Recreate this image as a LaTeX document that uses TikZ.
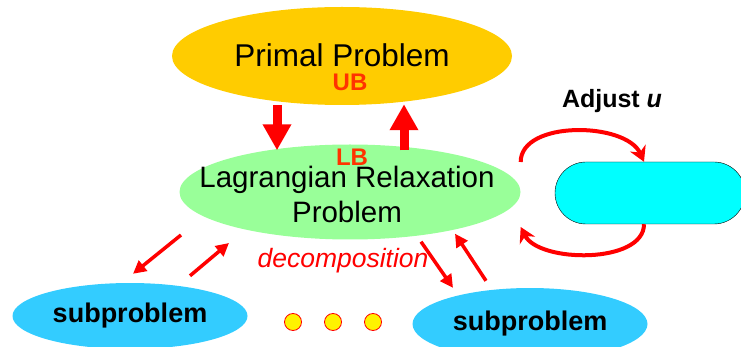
\documentclass[tikz,border=0pt]{standalone}
\usepackage{fontspec}
\setmainfont{Liberation Sans}
\usetikzlibrary{arrows.meta,shapes.geometric}
\definecolor{primalc}{HTML}{FFCC00}
\definecolor{lrc}{HTML}{99FF99}
\definecolor{subc}{HTML}{33CCFF}
\definecolor{adjc}{HTML}{00FFFF}
\definecolor{boundc}{HTML}{FF3300}
\begin{document}
\begin{tikzpicture}[x=1pt, y=-1pt,
  bigarrow/.style={red, line width=9pt, -{Triangle[width=27pt,length=26pt]}},
  thinarrow/.style={red, line width=3.5pt, -{Triangle[width=13pt,length=13pt]}},
  arcarrow/.style={red, line width=4pt, -{Stealth[width=17pt,length=15pt]}},
  blob/.style={ellipse, inner sep=0pt},
  dot/.style={circle, fill=yellow, draw=red, line width=.8pt, minimum size=17pt, inner sep=0pt}]
\useasboundingbox (0,0) rectangle (741,347);

\node[blob, fill=primalc, minimum width=340pt, minimum height=98pt] (primal) at (342,56) {};
\node[font=\fontsize{31.5}{34}\selectfont] (primaltext) at (342,55) {Primal Problem};
\node[blob, fill=lrc, minimum width=341pt, minimum height=95pt] (lr) at (350,192) {};
\node[font=\fontsize{29.5}{35}\selectfont, align=center] (lrtext) at (347,194) {Lagrangian Relaxation\\Problem};
\node[text=boundc, font=\fontsize{24}{28}\selectfont\bfseries] (ub) at (350,82) {UB};
\node[text=boundc, font=\fontsize{24}{28}\selectfont\bfseries] (lb) at (352,157) {LB};

\node[draw=black, fill=adjc, minimum width=190pt, minimum height=62pt, rounded corners=31pt] (adj) at (650,193) {};
\node[font=\fontsize{25}{29}\selectfont\bfseries] (adjlabel) at (612,101) {Adjust \textit{u}};

\node[blob, fill=subc, minimum width=235pt, minimum height=66pt] (sub1) at (130,316) {};
\node[font=\fontsize{27}{30}\selectfont\bfseries] (sub1text) at (130,316) {subproblem};
\node[blob, fill=subc, minimum width=235pt, minimum height=72pt] (sub2) at (530,324) {};
\node[font=\fontsize{27}{30}\selectfont\bfseries] (sub2text) at (530,324) {subproblem};
\node[text=red, font=\fontsize{26.5}{29}\selectfont\itshape] (dec) at (343,261) {decomposition};

\foreach \x in {293,333,373}
    \node[dot] (d\x) at (\x,322) {};

\draw[bigarrow] ([xshift=-65pt]primal.south) -- ([xshift=-73pt,yshift=-6pt]lr.north);
\draw[bigarrow] ([xshift=54pt,yshift=-6pt]lr.north) -- ([xshift=62pt,yshift=1pt]primal.south);

\draw[arcarrow] ([yshift=30pt]lr.east) .. controls +(0,-42) and +(-18,-40) .. ([xshift=-6pt]adj.north);
\draw[arcarrow] ([xshift=-6pt]adj.south) .. controls +(0,40) and +(18,36) .. ([yshift=-35pt]lr.east);

\draw[thinarrow] ([shift={(-169,43)}]lr.center) -- ([xshift=3pt,yshift=9pt]sub1.north);
\draw[thinarrow] ([xshift=60pt,yshift=7pt]sub1.north) -- ([shift={(-121,51)}]lr.center);
\draw[thinarrow] ([xshift=71pt,yshift=-2pt]lr.south) -- ([xshift=-77pt]sub2.north);
\draw[thinarrow] ([xshift=-44pt,yshift=7pt]sub2.north) -- ([xshift=105pt,yshift=6pt]lr.south);

\end{tikzpicture}
\end{document}
